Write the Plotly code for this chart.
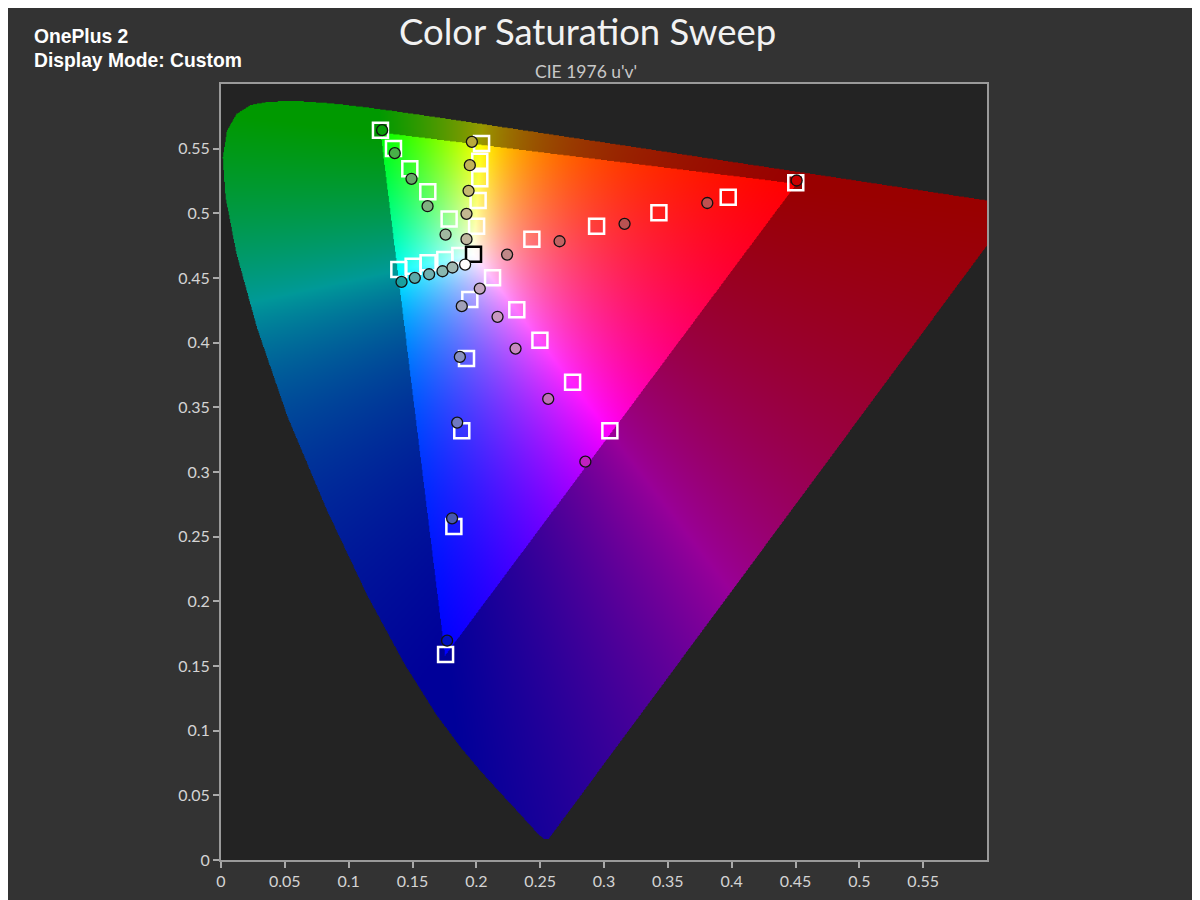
import base64
import struct
import zlib

import numpy as np
import plotly.graph_objects as go

# CIE 1931 2-degree spectral locus (x, y), 380..700 nm in 5 nm steps
locus_x = [0.1741, 0.1740, 0.1738, 0.1736, 0.1733, 0.1730, 0.1726, 0.1721, 0.1714, 0.1703,
           0.1689, 0.1669, 0.1644, 0.1611, 0.1566, 0.1510, 0.1440, 0.1355, 0.1241, 0.1096,
           0.0913, 0.0687, 0.0454, 0.0235, 0.0082, 0.0039, 0.0139, 0.0389, 0.0743, 0.1142,
           0.1547, 0.1929, 0.2296, 0.2658, 0.3016, 0.3373, 0.3731, 0.4087, 0.4441, 0.4788,
           0.5125, 0.5448, 0.5752, 0.6029, 0.6270, 0.6482, 0.6658, 0.6801, 0.6915, 0.7006,
           0.7079, 0.7140, 0.7190, 0.7230, 0.7260, 0.7283, 0.7300, 0.7311, 0.7320, 0.7327,
           0.7334, 0.7340, 0.7344, 0.7346, 0.7347]
locus_y = [0.0050, 0.0050, 0.0049, 0.0049, 0.0048, 0.0048, 0.0048, 0.0048, 0.0051, 0.0058,
           0.0069, 0.0086, 0.0109, 0.0138, 0.0177, 0.0227, 0.0297, 0.0399, 0.0578, 0.0868,
           0.1327, 0.2007, 0.2950, 0.4127, 0.5384, 0.6548, 0.7502, 0.8120, 0.8338, 0.8262,
           0.8059, 0.7816, 0.7543, 0.7243, 0.6923, 0.6589, 0.6245, 0.5896, 0.5547, 0.5202,
           0.4866, 0.4544, 0.4242, 0.3965, 0.3725, 0.3514, 0.3340, 0.3197, 0.3083, 0.2993,
           0.2920, 0.2859, 0.2809, 0.2770, 0.2740, 0.2717, 0.2700, 0.2689, 0.2680, 0.2673,
           0.2666, 0.2660, 0.2656, 0.2654, 0.2653]

# target (squares) and measured (circles) u'v', 100% -> 20% saturation
white_target = (0.1978, 0.4683)
white_measured = (0.1912, 0.4604)

red_target_u = [0.4502, 0.3973, 0.3430, 0.2942, 0.2435]
red_target_v = [0.5236, 0.5125, 0.5004, 0.4900, 0.4800]
red_meas_u = [0.4509, 0.3809, 0.3161, 0.2652, 0.2241]
red_meas_v = [0.5254, 0.5080, 0.4919, 0.4784, 0.4681]
red_meas_col = ['#c80000', '#c05050', '#b85252', '#c06262', '#c08888']

green_target_u = [0.1249, 0.1351, 0.1479, 0.1620, 0.1787]
green_target_v = [0.5643, 0.5501, 0.5344, 0.5166, 0.4957]
green_meas_u = [0.1262, 0.1361, 0.1492, 0.1618, 0.1759]
green_meas_v = [0.5643, 0.5465, 0.5267, 0.5055, 0.4836]
green_meas_col = ['#0aa00a', '#48b048', '#68a868', '#80b080', '#a0b8a0']

blue_target_u = [0.1759, 0.1824, 0.1886, 0.1923, 0.1949]
blue_target_v = [0.1588, 0.2578, 0.3318, 0.3877, 0.4333]
blue_meas_u = [0.1771, 0.1810, 0.1850, 0.1871, 0.1886]
blue_meas_v = [0.1696, 0.2642, 0.3382, 0.3890, 0.4282]
blue_meas_col = ['#0010c0', '#4858b0', '#7078c0', '#8890c0', '#a0a0b8']

cyan_target_u = [0.1393, 0.1505, 0.1622, 0.1753, 0.1871]
cyan_target_v = [0.4565, 0.4591, 0.4617, 0.4643, 0.4674]
cyan_meas_u = [0.1414, 0.1518, 0.1630, 0.1735, 0.1813]
cyan_meas_v = [0.4470, 0.4501, 0.4529, 0.4552, 0.4581]
cyan_meas_col = ['#1aa0a0', '#5aa8a8', '#70b0b0', '#88b8b0', '#a0b8b0']

magenta_target_u = [0.3046, 0.2754, 0.2498, 0.2317, 0.2127]
magenta_target_v = [0.3318, 0.3694, 0.4019, 0.4254, 0.4501]
magenta_meas_u = [0.2854, 0.2563, 0.2307, 0.2166, 0.2027]
magenta_meas_v = [0.3080, 0.3565, 0.3954, 0.4200, 0.4418]
magenta_meas_col = ['#c020c0', '#c070b8', '#c888c0', '#c898c0', '#c4a8c0']

yellow_target_u = [0.2041, 0.2027, 0.2027, 0.2014, 0.2002]
yellow_target_v = [0.5540, 0.5403, 0.5267, 0.5099, 0.4900]
yellow_meas_u = [0.1965, 0.1949, 0.1939, 0.1923, 0.1923]
yellow_meas_v = [0.5553, 0.5372, 0.5174, 0.4996, 0.4800]
yellow_meas_col = ['#b8aa3c', '#c0b459', '#c4b870', '#c4b890', '#c0b8a0']

tick_vals = [0, 0.05, 0.1, 0.15, 0.2, 0.25, 0.3, 0.35, 0.4, 0.45, 0.5, 0.55]


# ---- background chromaticity diagram, rendered to a PNG ----
def xy_to_uv(x, y):
    d = -2 * x + 12 * y + 3
    return 4 * x / d, 9 * y / d


lx = np.array(locus_x)
ly = np.array(locus_y)
lu, lv = xy_to_uv(lx, ly)
poly_u = np.append(lu, lu[0])
poly_v = np.append(lv, lv[0])

N = 1000
span = 0.6
cu = (np.arange(N) + 0.5) / N * span
cv = span - (np.arange(N) + 0.5) / N * span
U, V = np.meshgrid(cu, cv)

inside = np.zeros(U.shape, dtype=bool)
for i in range(len(poly_u) - 1):
    u1, v1, u2, v2 = poly_u[i], poly_v[i], poly_u[i + 1], poly_v[i + 1]
    if v1 == v2:
        continue
    cond = (v1 > V) != (v2 > V)
    uc = u1 + (V - v1) * (u2 - u1) / (v2 - v1)
    inside ^= cond & (U < uc)

den = 6 * U - 16 * V + 12
cx = 9 * U / den
cy = np.maximum(4 * V / den, 1e-6)
X = cx / cy
Z = (1 - cx - cy) / cy
M = np.array([[3.2406, -1.5372, -0.4986],
              [-0.9689, 1.8758, 0.0415],
              [0.0557, -0.2040, 1.0570]])
lin = np.stack([M[k, 0] * X + M[k, 1] + M[k, 2] * Z for k in range(3)], axis=-1)
in_gamut = np.all(lin >= 0, axis=-1)
lin = np.clip(lin, 0, None)
lin = lin / np.maximum(lin.max(axis=-1, keepdims=True), 1e-9)
# shown without gamma so the colours stay saturated, dimmed outside the sRGB triangle
shade = np.where(in_gamut[..., None], lin, lin * 0.6)
rgba = np.zeros((N, N, 4), dtype=np.uint8)
rgba[..., :3] = np.clip(shade * 255, 0, 255).astype(np.uint8)
rgba[..., 3] = np.where(inside, 255, 0)


def png_uri(arr):
    h, w = arr.shape[:2]
    raw = b''.join(b'\x00' + arr[r].tobytes() for r in range(h))

    def chunk(tag, data):
        return (struct.pack('>I', len(data)) + tag + data +
                struct.pack('>I', zlib.crc32(tag + data) & 0xffffffff))

    png = (b'\x89PNG\r\n\x1a\n' +
           chunk(b'IHDR', struct.pack('>IIBBBBB', w, h, 8, 6, 0, 0, 0)) +
           chunk(b'IDAT', zlib.compress(raw, 9)) +
           chunk(b'IEND', b''))
    return 'data:image/png;base64,' + base64.b64encode(png).decode()


fig = go.Figure()

series = [
    (red_target_u, red_target_v, red_meas_u, red_meas_v, red_meas_col),
    (green_target_u, green_target_v, green_meas_u, green_meas_v, green_meas_col),
    (blue_target_u, blue_target_v, blue_meas_u, blue_meas_v, blue_meas_col),
    (cyan_target_u, cyan_target_v, cyan_meas_u, cyan_meas_v, cyan_meas_col),
    (magenta_target_u, magenta_target_v, magenta_meas_u, magenta_meas_v, magenta_meas_col),
    (yellow_target_u, yellow_target_v, yellow_meas_u, yellow_meas_v, yellow_meas_col),
]

for tu, tv, mu, mv, mc in series:
    fig.add_trace(go.Scatter(x=tu, y=tv, mode='markers', hoverinfo='skip',
                             marker=dict(symbol='square', size=15, color='rgba(0,0,0,0)',
                                         line=dict(color='white', width=2.5))))

fig.add_trace(go.Scatter(x=[white_target[0]], y=[white_target[1]], mode='markers',
                         marker=dict(symbol='square', size=15, color='rgba(255,255,255,0.6)',
                                     line=dict(color='black', width=2.5))))

for tu, tv, mu, mv, mc in series:
    fig.add_trace(go.Scatter(x=mu, y=mv, mode='markers',
                             marker=dict(symbol='circle', size=11, color=mc,
                                         line=dict(color='#111111', width=1.3))))

fig.add_trace(go.Scatter(x=[white_measured[0]], y=[white_measured[1]], mode='markers',
                         marker=dict(symbol='circle', size=11, color='white',
                                     line=dict(color='#111111', width=1.3))))

axis_common = dict(range=[0, 0.6], tickvals=tick_vals, ticks='outside', ticklen=6,
                   tickwidth=2, tickcolor='#aaaaaa', showline=True, linecolor='#9a9a9a',
                   linewidth=2, mirror=True, showgrid=False, zeroline=False,
                   tickfont=dict(family='Lato', size=16, color='#d4d4d4'))

# the page puts the figure 8 px in from the corner, so the margins are shifted by 8 px
fig.update_layout(
    width=1200, height=900,
    margin=dict(l=213, r=221, t=76, b=48),
    paper_bgcolor='#333333', plot_bgcolor='#232323',
    showlegend=False,
    xaxis=axis_common,
    yaxis=axis_common,
    images=[dict(source=png_uri(rgba), xref='x', yref='y', x=0, y=0.6,
                 sizex=0.6, sizey=0.6, xanchor='left', yanchor='top',
                 sizing='stretch', layer='below')],
    annotations=[
        dict(text='Color Saturation Sweep', xref='paper', yref='paper',
             x=(587 - 221) / 766, y=(860 - 31) / 776, xanchor='center',
             yanchor='middle', showarrow=False,
             font=dict(family='Lato', size=36.5, color='#f2f2f2')),
        dict(text="CIE 1976 u'v'", xref='paper', yref='paper',
             x=(586 - 221) / 766, y=(860 - 71) / 776, xanchor='center', yanchor='middle',
             showarrow=False, font=dict(family='Lato', size=17.5, color='#c8c8c8')),
        dict(text='<b>OnePlus 2</b>', xref='paper', yref='paper',
             x=(32 - 221) / 766, y=(860 - 36.5) / 776, xanchor='left', yanchor='middle',
             showarrow=False, font=dict(family='Liberation Sans', size=19.3, color='white')),
        dict(text='<b>Display Mode: Custom</b>', xref='paper', yref='paper',
             x=(32 - 221) / 766, y=(860 - 60) / 776, xanchor='left', yanchor='middle',
             showarrow=False, font=dict(family='Liberation Sans', size=19.3, color='white')),
    ],
)

fig.write_html('out.html')
